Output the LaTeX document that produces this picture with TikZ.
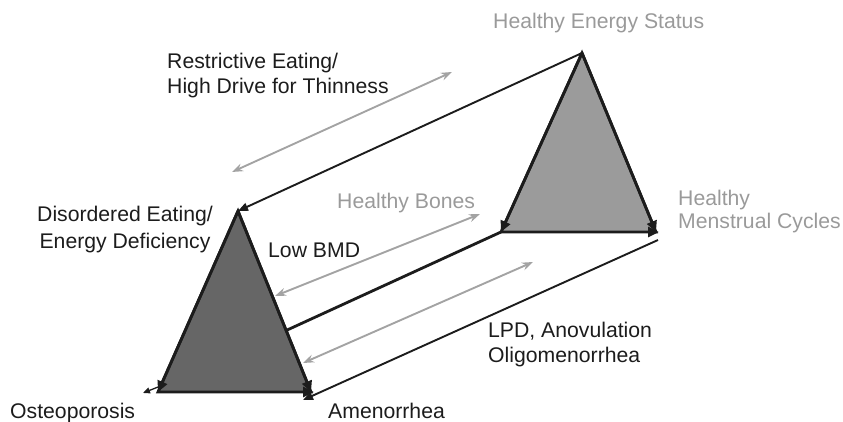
\documentclass[tikz,border=0pt]{standalone}
\usepackage{fontspec}
\setmainfont{Liberation Sans}
\usetikzlibrary{arrows.meta,calc}
\definecolor{darkfill}{HTML}{666666}
\definecolor{lightfill}{HTML}{9B9B9B}
\definecolor{grayline}{HTML}{A3A3A3}
\definecolor{graytext}{HTML}{9A9A9A}
\definecolor{ink}{HTML}{1C1C1C}
\begin{document}
\begin{tikzpicture}[x=1pt,y=-1pt,
  lbl/.style={anchor=base west, inner sep=0pt, font=\fontsize{21.2}{25}\selectfont, text=ink},
  clbl/.style={lbl, anchor=base},
  glbl/.style={lbl, text=graytext},
  outline/.style={draw=ink, line width=2.8pt, line join=miter},
  edgearrow/.style={draw=ink, line width=2.8pt, -{Triangle[length=11pt,width=10pt]}},
  thinlink/.style={draw=ink, line width=1.9pt},
  thicklink/.style={draw=ink, line width=2.8pt},
  garrow/.style={draw=grayline, line width=1.9pt, {Stealth[length=11pt,width=8pt]}-{Stealth[length=11pt,width=8pt]}},
]
\useasboundingbox (0,0) rectangle (843,422);

% dark triangle
\coordinate (dT) at (238,211);
\coordinate (dL) at (158,392);
\coordinate (dR) at (311,392);
\coordinate (dRx) at (314,392);
\fill[darkfill] (dT) -- (dL) -- (dR) -- cycle;
\draw[outline] (dL) -- (dT) -- (dR) -- cycle;
\draw[edgearrow] (dT) -- (dL);
\draw[edgearrow] (dT) -- (dR);
\draw[edgearrow] (dL) -- (dRx);

% light triangle
\coordinate (lT) at (582,53);
\coordinate (lL) at (501,232);
\coordinate (lR) at (656,232);
\coordinate (lRx) at (659,232);
\fill[lightfill] (lT) -- (lL) -- (lR) -- cycle;
\draw[outline] (lL) -- (lT) -- (lR) -- cycle;
\draw[edgearrow] (lT) -- (lL);
\draw[edgearrow] (lT) -- (lR);
\draw[edgearrow] (lL) -- (lRx);

% connectors
\draw[thinlink, -{Triangle[length=10pt,width=8pt]}] (lT) -- (dT);
\coordinate (dMid) at ($(dT)!0.66!(dR)$);
\draw[thicklink] (lL) -- (dMid);
\coordinate (lBot) at (658,240);
\coordinate (dBot) at (303,400);
\draw[thinlink, -{Triangle[length=10pt,width=8pt]}] (lBot) -- (dBot);
\coordinate (oStart) at (158,387);
\coordinate (oEnd) at (143,393);
\draw[thinlink, line width=1.3pt, -{Triangle[length=7pt,width=6pt]}] (oStart) -- (oEnd);

% gray double arrows
\coordinate (g1a) at (232,172);
\coordinate (g1b) at (452,72);
\coordinate (g2a) at (275,296);
\coordinate (g2b) at (480,214);
\coordinate (g3a) at (303,363);
\coordinate (g3b) at (533,262);
\draw[garrow] (g1a) -- (g1b);
\draw[garrow] (g2a) -- (g2b);
\draw[garrow] (g3a) -- (g3b);

% labels
\node[lbl] (restr1) at (167,69) {Restrictive Eating/};
\node[lbl] (restr2) at (167,94) {High Drive for Thinness};
\node[clbl] (dis1) at (125,222) {Disordered Eating/};
\node[clbl] (dis2) at (125,248) {Energy Deficiency};
\node[lbl] (lowbmd) at (268,257) {Low BMD};
\node[glbl] (hbones) at (337,208) {Healthy Bones};
\node[glbl] (hes) at (493,29) {Healthy Energy Status};
\node[glbl] (hmc1) at (678,205) {Healthy};
\node[glbl] (hmc2) at (678,229) {Menstrual Cycles};
\node[lbl] (lpd1) at (488,337) {LPD, Anovulation};
\node[lbl] (lpd2) at (488,362) {Oligomenorrhea};
\node[lbl] (osteo) at (10,418) {Osteoporosis};
\node[lbl] (amen) at (328,418) {Amenorrhea};
\end{tikzpicture}
\end{document}
